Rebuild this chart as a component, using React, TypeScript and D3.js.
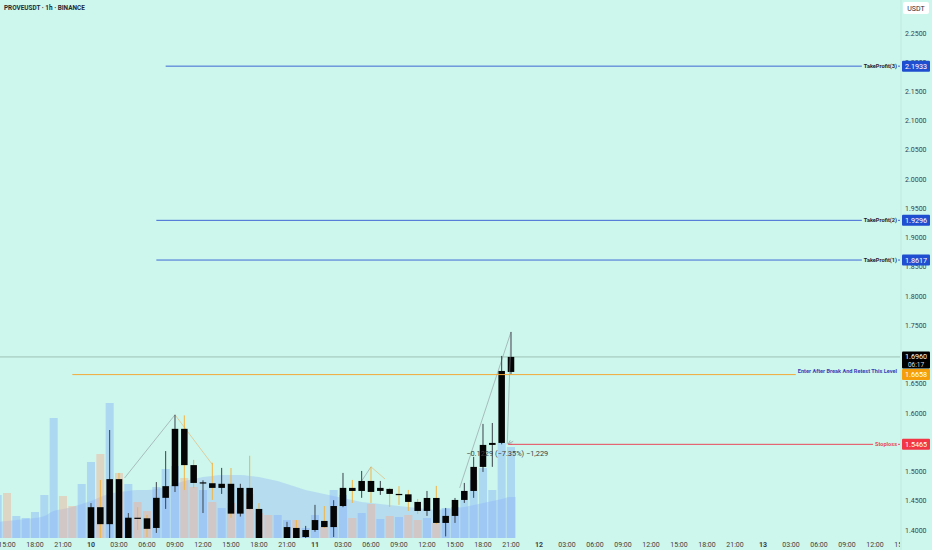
import * as d3 from 'd3';
import { useEffect, useRef } from 'react';

const WIDTH = 932;
const HEIGHT = 550;
const BG = '#cdf7ec';
const HOUR = 3600 * 1000;

const TITLE = 'PROVEUSDT · 1h · BINANCE';
const QUOTE = 'USDT';

// hourly candles, first candle = day 10 00:00
const CANDLE_START = Date.UTC(2025, 8, 10, 0);
const opens = [1.375, 1.439, 1.410, 1.487, 1.370, 1.421, 1.420, 1.4035, 1.455, 1.475, 1.573, 1.511, 1.480, 1.480, 1.472, 1.479, 1.428, 1.472, 1.436, 1.370, 1.360, 1.370, 1.4035, 1.388, 1.400, 1.4155, 1.405, 1.441, 1.472, 1.4668, 1.4839, 1.4668, 1.4703, 1.4617, 1.461, 1.448, 1.4326, 1.4548, 1.4121, 1.4241, 1.4514, 1.4668, 1.5079, 1.5455, 1.5489, 1.6703];
const highs = [1.446, 1.4856, 1.571, 1.4976, 1.429, 1.439, 1.426, 1.482, 1.535, 1.597, 1.596, 1.520, 1.485, 1.515, 1.5062, 1.506, 1.479, 1.527, 1.446, 1.380, 1.383, 1.414, 1.417, 1.407, 1.443, 1.441, 1.451, 1.4976, 1.4856, 1.501, 1.508, 1.4839, 1.472, 1.475, 1.4685, 1.4531, 1.4668, 1.4754, 1.4377, 1.4548, 1.4805, 1.525, 1.5814, 1.583, 1.6977, 1.7387];
const lows = [1.360, 1.360, 1.370, 1.350, 1.360, 1.400, 1.388, 1.395, 1.436, 1.465, 1.4685, 1.472, 1.429, 1.4514, 1.4617, 1.421, 1.423, 1.434, 1.360, 1.350, 1.350, 1.360, 1.360, 1.375, 1.397, 1.4035, 1.388, 1.439, 1.4463, 1.455, 1.4463, 1.460, 1.4394, 1.443, 1.4326, 1.4275, 1.4241, 1.410, 1.389, 1.4121, 1.4463, 1.455, 1.4993, 1.508, 1.5465, 1.6669];
const closes = [1.439, 1.410, 1.487, 1.370, 1.421, 1.420, 1.402, 1.455, 1.475, 1.573, 1.511, 1.4805, 1.4815, 1.472, 1.479, 1.428, 1.472, 1.436, 1.370, 1.360, 1.375, 1.405, 1.370, 1.400, 1.417, 1.405, 1.441, 1.472, 1.4668, 1.4839, 1.4651, 1.472, 1.4617, 1.461, 1.448, 1.4326, 1.4548, 1.4121, 1.4241, 1.4514, 1.4668, 1.5079, 1.5455, 1.5489, 1.672, 1.696];

// volume pane starts earlier (day 9 14:00)
const VOLUME_START = Date.UTC(2025, 8, 9, 14);
const volumes = [430, 450, 220, 200, 260, 430, 1200, 420, 320, 540, 760, 840, 1350, 650, 540, 360, 270, 510, 690, 720, 600, 510, 480, 360, 300, 350, 280, 440, 250, 230, 230, 180, 180, 100, 230, 110, 480, 430, 200, 250, 340, 190, 220, 210, 230, 180, 200, 150, 300, 310, 380, 580, 700, 480, 950, 910];
const volumeUp = [1, 0, 1, 1, 1, 1, 1, 0, 0, 1, 1, 0, 1, 0, 1, 0, 0, 1, 1, 1, 0, 0, 1, 0, 1, 0, 1, 0, 0, 0, 1, 1, 0, 1, 1, 0, 1, 1, 0, 1, 0, 1, 0, 1, 0, 0, 1, 0, 1, 1, 1, 1, 1, 1, 1, 1];
const volumeMA = [160, 170, 180, 190, 200, 220, 270, 290, 310, 340, 370, 410, 440, 460, 470, 480, 480, 490, 510, 540, 570, 590, 610, 620, 630, 630, 630, 620, 610, 590, 570, 540, 510, 480, 460, 440, 420, 400, 380, 360, 350, 340, 330, 320, 310, 300, 290, 280, 290, 300, 310, 330, 350, 370, 390, 410];

const PRICE_TICKS = [2.25, 2.2, 2.15, 2.1, 2.05, 2.0, 1.95, 1.9, 1.85, 1.8, 1.75, 1.7, 1.65, 1.6, 1.55, 1.5, 1.45, 1.4];

// drawn levels: hours counted from CANDLE_START for the left anchor
const levelNames = ['TakeProfit(3)', 'TakeProfit(2)', 'TakeProfit(1)', 'Enter After Break And Retest This Level', 'Stoploss'];
const levelPrices = [2.1933, 1.9296, 1.8617, 1.6658, 1.5465];
const levelFrom = [8, 7, 7, -2, 44.7];
const levelColors = ['#3f67d6', '#3f67d6', '#3f67d6', '#f2a93b', '#e8485c'];
const levelTagColors = ['#1f4fd0', '#1f4fd0', '#1f4fd0', '#f59e0b', '#f23645'];
const levelTextColors = ['#1b2233', '#1b2233', '#1b2233', '#3b3fb8', '#e8485c'];

const LAST_PRICE = 1.696;
const COUNTDOWN = '06:17';

// zigzag legs [hour, price]
const zigzags: [number, number][][] = [
    [[3.6, 1.489], [9, 1.597], [13, 1.512]],
    [[29, 1.4839], [30, 1.508], [31.5, 1.4873]],
    [[39.5, 1.472], [45, 1.7387]],
];

const MEASURE_FROM: [number, number] = [45, 1.7387];
const MEASURE_TO: [number, number] = [44.6, 1.5465];
const MEASURE_TEXT = '−0.1229 (−7.35%) −1,229';

const FONT = 'Roboto, "Noto Sans", sans-serif';

export default function App() {
    const ref = useRef<any>();

    useEffect(() => {
        document.body.style.margin = '0';
        const svg = d3.select<any, any>(ref.current);
        svg.selectAll('*').remove();

        const plotRight = 900;
        const plotBottom = 538;

        const x = d3.scaleUtc()
            .domain([new Date(CANDLE_START - 9.75 * HOUR), new Date(CANDLE_START + 86.68 * HOUR)])
            .range([0, plotRight]);
        const y = d3.scaleLinear().domain([1.4, 2.25]).range([530, 33]);
        const yVol = d3.scaleLinear().domain([0, 1600]).range([plotBottom, 378]);
        const hx = (h: number) => x(new Date(CANDLE_START + h * HOUR));
        const step = hx(1) - hx(0);

        svg.append('rect').attr('width', WIDTH).attr('height', HEIGHT).attr('fill', BG);

        svg.append('clipPath').attr('id', 'plot')
            .append('rect').attr('x', 0).attr('y', 0).attr('width', plotRight).attr('height', plotBottom);

        const stage = svg.append('g').attr('clip-path', 'url(#plot)');

        // volume moving average
        const maPoints = volumeMA.map((v, i) => ({ t: VOLUME_START + i * HOUR, v }));
        maPoints.push({ t: maPoints[maPoints.length - 1].t + 0.5 * HOUR, v: volumeMA[volumeMA.length - 1] });
        const maArea = d3.area<any>()
            .x((d) => x(new Date(d.t)))
            .y0(plotBottom)
            .y1((d) => yVol(d.v))
            .curve(d3.curveMonotoneX);
        stage.append('path').attr('d', maArea(maPoints)).attr('fill', '#86aaf7').attr('opacity', 0.33);

        // volume bars
        const volW = step * 0.86;
        stage.append('g').selectAll('rect').data(volumes).join('rect')
            .attr('x', (d, i) => x(new Date(VOLUME_START + i * HOUR)) - volW / 2)
            .attr('y', (d) => yVol(d))
            .attr('width', volW)
            .attr('height', (d) => plotBottom - yVol(d))
            .attr('fill', (d, i) => volumeUp[i] ? '#86b2fb' : '#f4ad94')
            .attr('opacity', 0.45);

        // current price line
        stage.append('line')
            .attr('x1', 0).attr('x2', plotRight)
            .attr('y1', y(LAST_PRICE)).attr('y2', y(LAST_PRICE))
            .attr('stroke', '#93b3a8').attr('stroke-width', 0.8);

        // zigzag
        zigzags.forEach((leg) => {
            for (let i = 1; i < leg.length; i++) {
                const a = leg[i - 1];
                const b = leg[i];
                stage.append('line')
                    .attr('x1', hx(a[0])).attr('y1', y(a[1]))
                    .attr('x2', hx(b[0])).attr('y2', y(b[1]))
                    .attr('stroke', b[1] > a[1] ? '#8d969c' : '#e5b06a')
                    .attr('stroke-width', 0.6);
            }
        });

        // candles
        const candles = opens.map((o, i) => ({ o, h: highs[i], l: lows[i], c: closes[i], i }));
        const bodyW = step * 0.7;
        const cg = stage.append('g');
        cg.selectAll('.wick').data(candles).join('line')
            .attr('class', 'wick')
            .attr('x1', (d) => hx(d.i)).attr('x2', (d) => hx(d.i))
            .attr('y1', (d) => y(d.h)).attr('y2', (d) => y(d.l))
            .attr('stroke', (d) => d.c >= d.o ? '#39424a' : '#f0b545')
            .attr('stroke-width', 1);
        cg.selectAll('.body').data(candles).join('rect')
            .attr('class', 'body')
            .attr('x', (d) => hx(d.i) - bodyW / 2)
            .attr('y', (d) => y(Math.max(d.o, d.c)))
            .attr('width', bodyW)
            .attr('height', (d) => Math.max(1.2, Math.abs(y(d.o) - y(d.c))))
            .attr('fill', '#050505');

        // measure
        stage.append('line')
            .attr('x1', hx(MEASURE_FROM[0])).attr('y1', y(MEASURE_FROM[1]))
            .attr('x2', hx(MEASURE_TO[0])).attr('y2', y(MEASURE_TO[1]))
            .attr('stroke', '#8d969c').attr('stroke-width', 0.6);
        const mx = hx(MEASURE_TO[0]);
        const my = y(MEASURE_TO[1]);
        stage.append('path')
            .attr('d', `M${mx + 6},${my - 3} L${mx + 1},${my - 0.5} M${mx + 1},${my - 0.5} L${mx + 3},${my - 4} M${mx + 1},${my - 0.5} L${mx + 5},${my}`)
            .attr('stroke', '#8d969c').attr('stroke-width', 0.7).attr('fill', 'none');
        stage.append('text')
            .attr('x', mx).attr('y', my + 11.5)
            .attr('text-anchor', 'middle')
            .attr('font-family', FONT).attr('font-size', 7.4)
            .attr('fill', '#3a3f45')
            .text(MEASURE_TEXT);

        // levels
        levelNames.forEach((name, i) => {
            const ly = y(levelPrices[i]);
            const isEntry = i === 3;
            const label = stage.append('text')
                .attr('x', 897)
                .attr('y', isEntry ? ly - 1.5 : ly + 2)
                .attr('text-anchor', 'end')
                .attr('font-family', FONT).attr('font-size', 5.6).attr('font-weight', 700)
                .attr('fill', levelTextColors[i])
                .text(name);
            const tw = (label.node() as any).getComputedTextLength();
            stage.append('line')
                .attr('x1', hx(levelFrom[i])).attr('x2', 897 - tw - 2)
                .attr('y1', ly).attr('y2', ly)
                .attr('stroke', levelColors[i]).attr('stroke-width', 1);
            if (!isEntry) {
                stage.append('line')
                    .attr('x1', 898).attr('x2', plotRight)
                    .attr('y1', ly).attr('y2', ly)
                    .attr('stroke', levelColors[i]).attr('stroke-width', 1);
            }
        });

        // price axis; labels sitting fully under a price tag are hidden, as on the original
        svg.append('line')
            .attr('x1', plotRight + 1).attr('x2', plotRight + 1)
            .attr('y1', 0).attr('y2', HEIGHT)
            .attr('stroke', '#bfe9de').attr('stroke-width', 1);
        const tagPrices = [...levelPrices, LAST_PRICE];
        const shownTicks = PRICE_TICKS.filter((t) => tagPrices.every((p) => Math.abs(y(t) - y(p)) > 3));
        const yAxis = svg.append('g');
        yAxis.selectAll('text').data(shownTicks).join('text')
            .attr('x', 905)
            .attr('y', (d) => y(d) + 2.5)
            .attr('font-family', FONT).attr('font-size', 7)
            .attr('fill', '#3c4046')
            .text((d) => d3.format('.4f')(d));

        const tag = (price: number, color: string, label: string) => {
            const ty = y(price);
            yAxis.append('rect')
                .attr('x', 902).attr('y', ty - 5.5).attr('width', 28).attr('height', 11)
                .attr('rx', 1).attr('fill', color);
            yAxis.append('text')
                .attr('x', 916).attr('y', ty + 2.6)
                .attr('text-anchor', 'middle')
                .attr('font-family', FONT).attr('font-size', 7.2)
                .attr('fill', '#ffffff')
                .text(label);
        };
        levelPrices.forEach((p, i) => tag(p, levelTagColors[i], d3.format('.4f')(p)));

        const lastY = y(LAST_PRICE);
        yAxis.append('rect')
            .attr('x', 902).attr('y', lastY - 5.5).attr('width', 28).attr('height', 17)
            .attr('rx', 1).attr('fill', '#000000');
        yAxis.append('text')
            .attr('x', 916).attr('y', lastY + 2.4)
            .attr('text-anchor', 'middle')
            .attr('font-family', FONT).attr('font-size', 7.2).attr('fill', '#ffffff')
            .text(d3.format('.4f')(LAST_PRICE));
        yAxis.append('text')
            .attr('x', 916).attr('y', lastY + 9.6)
            .attr('text-anchor', 'middle')
            .attr('font-family', FONT).attr('font-size', 6.5).attr('fill', '#d8d8d8')
            .text(COUNTDOWN);

        yAxis.append('rect')
            .attr('x', 903).attr('y', 2).attr('width', 26).attr('height', 12)
            .attr('rx', 2).attr('fill', '#ffffff');
        yAxis.append('text')
            .attr('x', 916).attr('y', 10.5)
            .attr('text-anchor', 'middle')
            .attr('font-family', FONT).attr('font-size', 7).attr('fill', '#2a2e39')
            .text(QUOTE);

        // time axis
        const [t0, t1] = x.domain();
        const timeTicks = d3.utcHour.every(3)!.range(d3.utcHour.ceil(t0), new Date(+t1 + 3 * HOUR));
        svg.append('clipPath').attr('id', 'xclip')
            .append('rect').attr('x', 0).attr('y', plotBottom).attr('width', plotRight).attr('height', HEIGHT - plotBottom);
        const xAxis = svg.append('g').attr('clip-path', 'url(#xclip)');
        xAxis.selectAll('text').data(timeTicks).join('text')
            .attr('x', (d) => x(d))
            .attr('y', 547)
            .attr('text-anchor', 'middle')
            .attr('font-family', FONT).attr('font-size', 7)
            .attr('font-weight', (d) => d.getUTCHours() === 0 ? 700 : 400)
            .attr('fill', '#3c4046')
            .text((d) => d.getUTCHours() === 0 ? d3.utcFormat('%-d')(d) : d3.utcFormat('%H:%M')(d));

        // title
        svg.append('text')
            .attr('x', 4).attr('y', 9.5)
            .attr('font-family', FONT).attr('font-size', 6.4).attr('font-weight', 700)
            .attr('fill', '#1f2a36')
            .text(TITLE);
    });

    return (
        <div>
            <svg ref={ref} width={WIDTH} height={HEIGHT} style={{ display: 'block' }}></svg>
        </div>
    );
}
